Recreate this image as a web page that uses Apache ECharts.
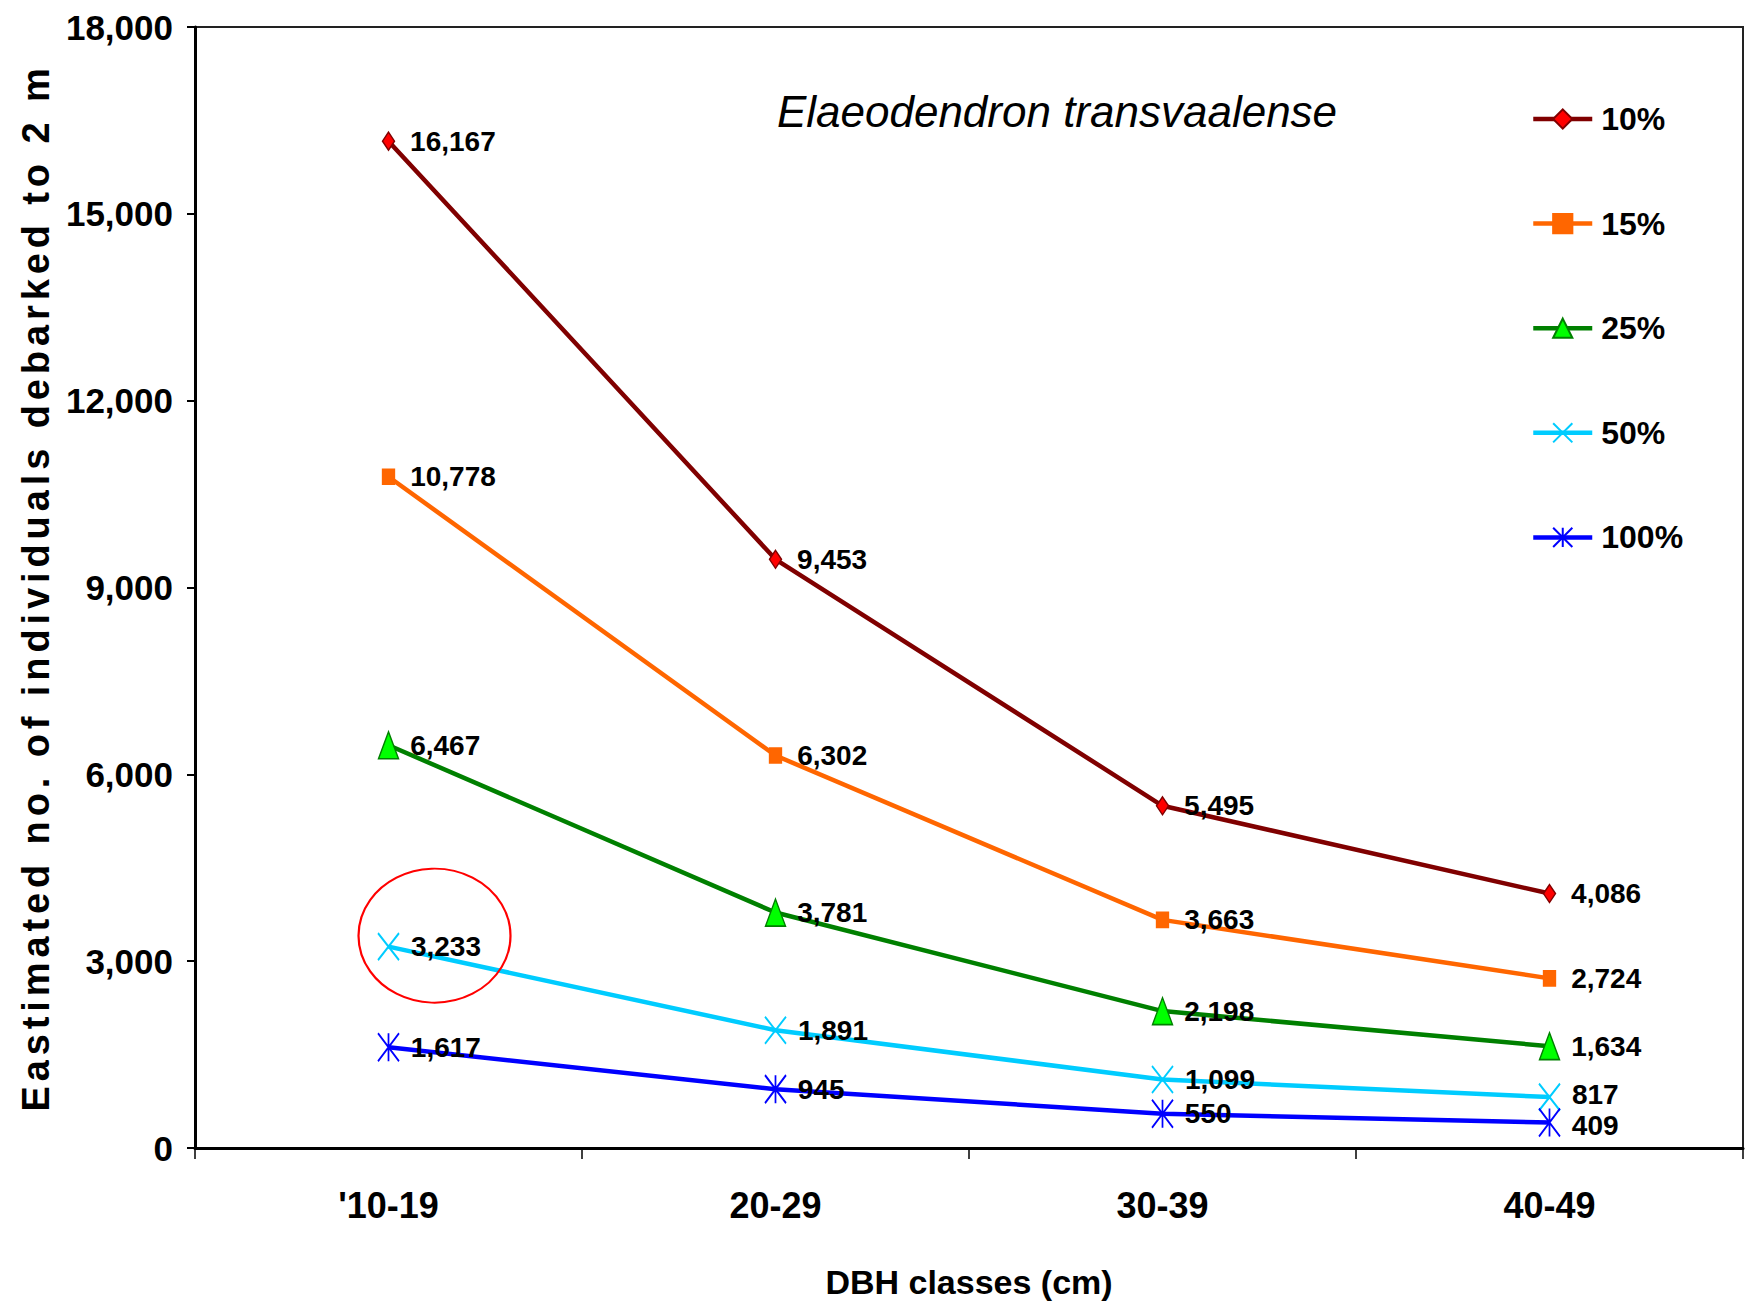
<!DOCTYPE html>
<html>
<head>
<meta charset="utf-8">
<title>Elaeodendron transvaalense</title>
<script src="https://cdn.jsdelivr.net/npm/echarts@6/dist/echarts.min.js"></script>
<style>
  html, body { margin: 0; padding: 0; background: #fff; }
  #chart { width: 1745px; height: 1306px; }
</style>
</head>
<body>
<div id="chart"></div>
<script>
// DBH classes and debarking estimates per harvest intensity
const categories = ["'10-19", "20-29", "30-39", "40-49"];
const seriesNames = ['10%', '15%', '25%', '50%', '100%'];
const pct10  = [16167, 9453, 5495, 4086];
const pct15  = [10778, 6302, 3663, 2724];
const pct25  = [6467, 3781, 2198, 1634];
const pct50  = [3233, 1891, 1099, 817];
const pct100 = [1617, 945, 550, 409];
const yMin = 0, yMax = 18000, yStep = 3000;

const titleText = 'Elaeodendron transvaalense';
const xName = 'DBH classes (cm)';
const yName = 'Eastimated no. of individuals debarked to 2 m';

const SANS = '"Liberation Sans", Arial, sans-serif';
const fmt = v => Number(v).toLocaleString('en-US');

const crossPath = 'path://M0,0L20,28M20,0L0,28';
const starPath = 'path://M0,0L20,28M20,0L0,28M10,0L10,28';

// Line series with value labels to the right of each marker;
// lastOffset nudges the label of the final point (the two lowest series sit close together)
function makeSeries(name, data, line, fill, border, symbol, size, dist, lastOffset) {
  const points = data.map((v, i) =>
    (lastOffset && i === data.length - 1) ? { value: v, label: { offset: [0, lastOffset] } } : v);
  return {
    name: name,
    type: 'line',
    data: points,
    symbol: symbol,
    symbolSize: size,
    lineStyle: { color: line, width: 4.5 },
    itemStyle: { color: fill, borderColor: border, borderWidth: symbol.indexOf('path://') === 0 ? 2 : 1.5 },
    label: {
      show: true,
      position: 'right',
      distance: dist,
      formatter: p => fmt(p.value),
      color: '#000',
      fontFamily: SANS,
      fontWeight: 'bold',
      fontSize: 28
    },
    emphasis: { disabled: true },
    z: 3
  };
}

const chart = echarts.init(document.getElementById('chart'), null, { renderer: 'svg' });

// Spaced-out lettering for the vertical axis title
chart.on('finished', function () {
  document.querySelectorAll('#chart svg text').forEach(function (t) {
    if (t.textContent === yName) t.style.letterSpacing = '4.9px';
  });
});

chart.setOption({
  animation: false,
  backgroundColor: '#fff',
  title: {
    text: titleText,
    left: 1057,
    top: 89,
    textAlign: 'center',
    padding: 0,
    textStyle: {
      fontFamily: SANS,
      fontStyle: 'italic',
      fontWeight: 'normal',
      fontSize: 44,
      color: '#000'
    }
  },
  legend: {
    orient: 'vertical',
    left: 1531,
    top: 103,
    padding: 0,
    itemWidth: 59,
    itemHeight: 24,
    itemGap: 72.6,
    data: seriesNames,
    lineStyle: { width: 4.5 },
    textStyle: {
      fontFamily: SANS,
      fontWeight: 'bold',
      fontSize: 32,
      color: '#000',
      padding: [0, 0, 0, 4]
    }
  },
  grid: {
    left: 195,
    right: 2,
    top: 27,
    bottom: 158,
    outerBoundsMode: 'none',
    containLabel: false,
    show: true,
    borderColor: '#222',
    borderWidth: 2
  },
  xAxis: {
    type: 'category',
    data: categories,
    boundaryGap: true,
    name: xName,
    nameLocation: 'middle',
    nameGap: 117,
    nameMoveOverlap: false,
    nameTextStyle: { fontFamily: SANS, fontWeight: 'bold', fontSize: 34, color: '#000' },
    axisLine: { lineStyle: { color: '#000', width: 3 } },
    axisTick: { show: true, length: 11, lineStyle: { color: '#000', width: 1.5 } },
    axisLabel: { margin: 39, fontFamily: SANS, fontWeight: 'bold', fontSize: 36, color: '#000' },
    splitLine: { show: false }
  },
  yAxis: {
    type: 'value',
    min: yMin,
    max: yMax,
    interval: yStep,
    name: yName,
    nameLocation: 'middle',
    nameGap: 140,
    nameRotate: 90,
    nameMoveOverlap: false,
    nameTextStyle: { fontFamily: SANS, fontWeight: 'bold', fontSize: 38, color: '#000' },
    axisLine: { show: true, lineStyle: { color: '#000', width: 3 } },
    axisTick: { show: true, length: 8, lineStyle: { color: '#000', width: 2 } },
    axisLabel: { margin: 22, formatter: fmt, fontFamily: SANS, fontWeight: 'bold', fontSize: 35, color: '#000' },
    splitLine: { show: false }
  },
  series: [
    makeSeries('10%', pct10, '#800000', '#FF0000', '#800000', 'diamond', [12, 18], 15),
    makeSeries('15%', pct15, '#FF6600', '#FF6600', '#FF6600', 'rect', [12, 15], 15),
    makeSeries('25%', pct25, '#008000', '#00FF00', '#008000', 'triangle', [20, 27], 11),
    makeSeries('50%', pct50, '#00CCFF', '#00CCFF', '#00CCFF', crossPath, [21, 27], 11, -3),
    makeSeries('100%', pct100, '#0000FF', '#0000FF', '#0000FF', starPath, [21, 28], 11, 3)
  ]
});

// Red ring highlighting the first 50% point
const hp = chart.convertToPixel({ seriesIndex: 3 }, [0, pct50[0]]);
chart.setOption({
  graphic: [{
    type: 'circle',
    x: hp[0] + 46,
    y: hp[1] - 11,
    scaleY: 67 / 76,
    shape: { cx: 0, cy: 0, r: 76 },
    style: { fill: 'none', stroke: '#FF0000', lineWidth: 2.2 },
    z: 10
  }]
});
</script>
</body>
</html>
